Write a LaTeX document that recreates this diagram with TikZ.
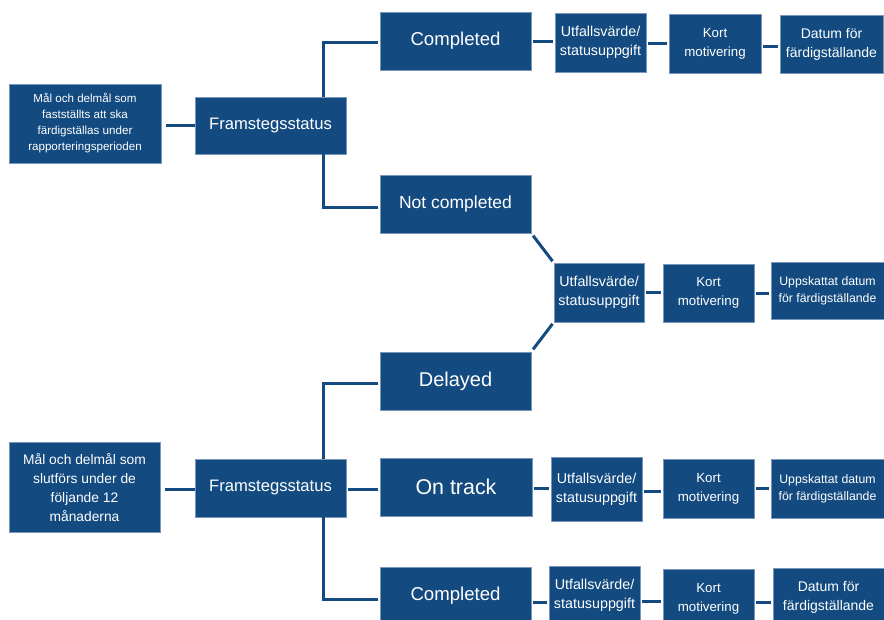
\documentclass[tikz,border=0pt]{standalone}
\usepackage{fontspec}
\setmainfont{Liberation Sans}
\definecolor{boxblue}{RGB}{19,74,128}
\definecolor{boxedge}{RGB}{120,150,185}
\tikzset{
  box/.style={fill=boxblue, draw=boxedge, line width=0.5pt, text=white, inner sep=0pt, align=center},
  wsmall/.style={minimum width=#1pt},
  conn/.style={draw=boxblue, line width=3pt, shorten <=2pt, shorten >=2pt},
  elbow/.style={draw=boxblue, line width=3pt, shorten >=2pt}
}
\newcommand{\fs}[2]{\fontsize{#1}{#2}\selectfont}
\begin{document}
\begin{tikzpicture}[x=1pt,y=-1pt]
\useasboundingbox (0,0) rectangle (884,619);
\clip (0,0) rectangle (884,619);
\fill[white] (0,0) rectangle (884,619);
% top tree
\node[box, minimum width=152pt, minimum height=79pt, font=\fs{11.6}{16}] (L1) at (85,123.5) {Mål och delmål som\\fastställts att ska\\färdigställas under\\rapporteringsperioden};
\node[box, minimum width=151pt, minimum height=57pt, font=\fs{16.6}{20}] (F1) at (270.5,125.5) {Framstegsstatus};
\node[box, minimum width=151pt, minimum height=58pt, font=\fs{18.6}{22}] (C1) at (455.5,41) {Completed};
\node[box, minimum width=91pt, minimum height=59pt, font=\fs{14.3}{19}] (U1) at (600.5,42.5) {Utfallsvärde/\\statusuppgift};
\node[box, minimum width=92pt, minimum height=59pt, font=\fs{13.3}{19}] (K1) at (715,43.5) {Kort\\motivering};
\node[box, minimum width=103pt, minimum height=58pt, font=\fs{14}{19}] (D1) at (831.5,44) {Datum för\\färdigställande};
\node[box, minimum width=151pt, minimum height=58pt, font=\fs{17.5}{21}] (NC) at (455.5,204) {Not completed};
% middle
\node[box, minimum width=90pt, minimum height=59pt, font=\fs{14.3}{19}] (UM) at (599,292.5) {Utfallsvärde/\\statusuppgift};
\node[box, minimum width=91pt, minimum height=58pt, font=\fs{13.3}{19}] (KM) at (708.5,293) {Kort\\motivering};
\node[box, minimum width=113pt, minimum height=57pt, font=\fs{12.3}{17}] (PM) at (827.5,290.5) {Uppskattat datum\\för färdigställande};
% bottom tree
\node[box, minimum width=151pt, minimum height=58pt, font=\fs{20}{24}] (DL) at (455.5,381) {Delayed};
\node[box, minimum width=151pt, minimum height=90pt, font=\fs{13.8}{19}] (L2) at (84.5,487) {Mål och delmål som\\slutförs under de\\följande 12\\månaderna};
\node[box, minimum width=151pt, minimum height=58pt, font=\fs{16.6}{20}] (F2) at (270.5,488) {Framstegsstatus};
\node[box, minimum width=152pt, minimum height=58pt, font=\fs{21.4}{25}] (OT) at (456,487) {On track};
\node[box, minimum width=91pt, minimum height=64pt, font=\fs{14.3}{19}] (UO) at (596.5,489) {Utfallsvärde/\\statusuppgift};
\node[box, minimum width=91pt, minimum height=59pt, font=\fs{13.3}{19}] (KO) at (708.5,488.5) {Kort\\motivering};
\node[box, minimum width=113pt, minimum height=59pt, font=\fs{12.3}{17}] (PO) at (827.5,488.5) {Uppskattat datum\\för färdigställande};
\node[box, minimum width=151pt, minimum height=58pt, font=\fs{18.6}{22}] (C2) at (455.5,596) {Completed};
\node[box, minimum width=91pt, minimum height=59pt, font=\fs{14.3}{19}] (UB) at (594.5,595.5) {Utfallsvärde/\\statusuppgift};
\node[box, minimum width=91pt, minimum height=59pt, font=\fs{13.3}{19}] (KB) at (708.5,598.5) {Kort\\motivering};
\node[box, minimum width=111pt, minimum height=59pt, font=\fs{14}{19}] (DB) at (828.5,597.5) {Datum för\\färdigställande};
% connectors
\coordinate (bx) at (323,0);
\draw[conn, shorten <=5pt, shorten >=0pt] ([yshift=-2pt]L1.east) -- ([yshift=-2pt]L1.east -| F1.west);
\draw[elbow] (F1.north -| bx) |- ([yshift=-1pt]C1.west);
\draw[elbow] (F1.south -| bx) |- ([yshift=-3pt]NC.west);
\draw[conn] (C1.east) -- (C1.east -| U1.west);
\draw[conn] ([yshift=-1pt]U1.east) -- ([yshift=-1pt]U1.east -| K1.west);
\draw[conn] ([yshift=-3pt]K1.east) -- ([yshift=-3pt]K1.east -| D1.west);
\draw[conn, shorten <=3pt] (NC.south east) -- (UM.north west);
\draw[conn, shorten <=3pt] (DL.north east) -- (UM.south west);
\draw[conn] (UM.east) -- (UM.east -| KM.west);
\draw[conn] (KM.east) -- (KM.east -| PM.west);
\draw[conn, shorten <=5pt, shorten >=0pt] ([yshift=-2pt]L2.east) -- ([yshift=-2pt]L2.east -| F2.west);
\draw[elbow] (F2.north -| bx) |- ([yshift=-2pt]DL.west);
\draw[elbow] (F2.south -| bx) |- ([yshift=-3pt]C2.west);
\draw[conn] ([yshift=-1pt]F2.east) -- ([yshift=-1pt]F2.east -| OT.west);
\draw[conn] ([yshift=-1pt]OT.east) -- ([yshift=-1pt]OT.east -| UO.west);
\draw[conn] ([yshift=-2pt]UO.east) -- ([yshift=-2pt]UO.east -| KO.west);
\draw[conn] (KO.east) -- (KO.east -| PO.west);
\draw[conn] ([yshift=-6pt]C2.east) -- ([yshift=-6pt]C2.east -| UB.west);
\draw[conn] ([yshift=-6pt]UB.east) -- ([yshift=-6pt]UB.east -| KB.west);
\draw[conn] ([yshift=-4pt]KB.east) -- ([yshift=-4pt]KB.east -| DB.west);
\end{tikzpicture}
\end{document}
